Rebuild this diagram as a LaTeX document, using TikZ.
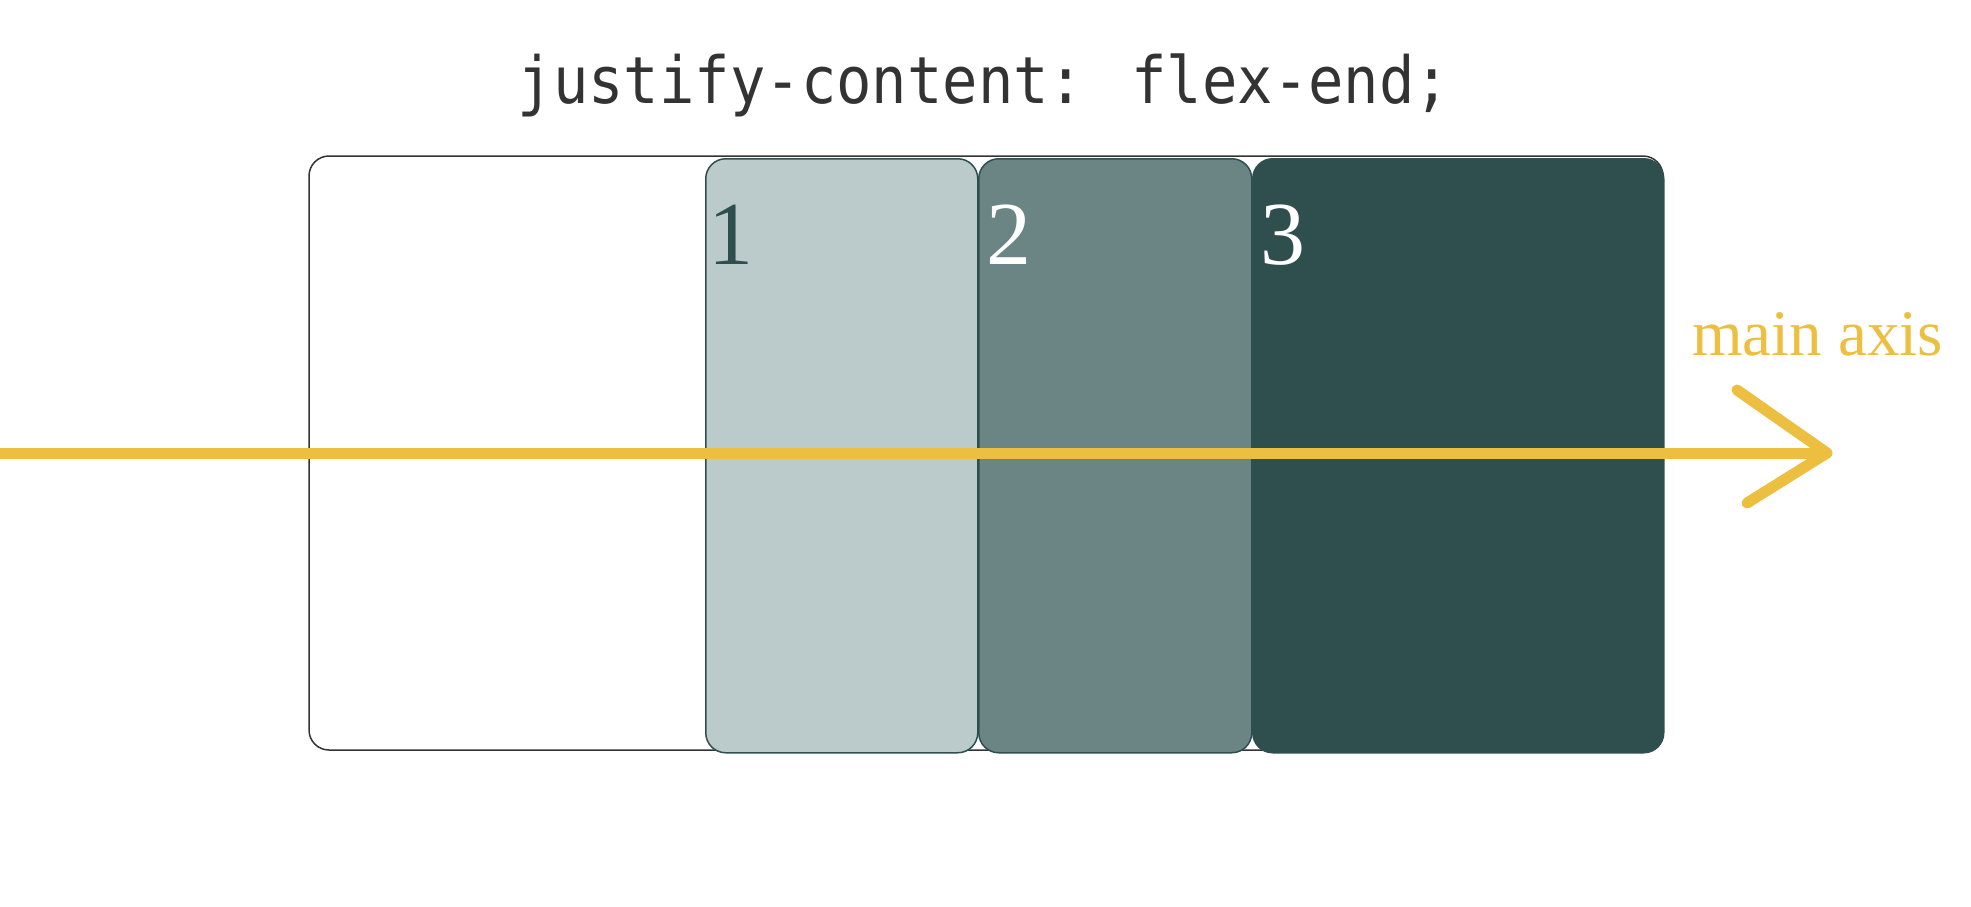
\documentclass[tikz,border=0pt]{standalone}
\usepackage{fontspec}
\setmainfont{Liberation Serif}
\newfontfamily\monofont{DejaVu Sans Mono}
\definecolor{cborder}{HTML}{333333}
\definecolor{cone}{HTML}{BBCBCB}
\definecolor{ctwo}{HTML}{6B8584}
\definecolor{cthree}{HTML}{2F4F4F}
\definecolor{caxis}{HTML}{EDBF41}
\tikzset{
  itembox/.style={draw=cthree, line width=1.5pt, rounded corners=20pt},
  digit/.style={anchor=base west, inner sep=0pt, font=\fontsize{90}{90}\selectfont},
  axisline/.style={draw=caxis, line width=11pt},
}
\begin{document}
\begin{tikzpicture}[x=1pt,y=-1pt]
\useasboundingbox (0,0) rectangle (1971,906);
\node[anchor=base, inner sep=0pt, text=cborder, font=\monofont\fontsize{65}{65}\selectfont] (title) at (984,103) {\scalebox{0.905}[1]{justify-content: flex-end;}};
\draw[cborder, line width=1.5pt, rounded corners=20pt] (309,156) rectangle (1663,750);
\node[itembox, fill=cone, minimum width=272pt, minimum height=594pt, anchor=north west, inner sep=0pt] (i1) at (705,158) {};
\node[itembox, fill=ctwo, minimum width=273pt, minimum height=594pt, anchor=north west, inner sep=0pt] (i2) at (978,158) {};
\node[itembox, fill=cthree, minimum width=411pt, minimum height=594pt, anchor=north west, inner sep=0pt] (i3) at (1252,158) {};
\node[digit, text=cthree] (d1) at (708,264) {1};
\node[digit, text=white] (d2) at (986,264) {2};
\node[digit, text=white] (d3) at (1260,264) {3};
\coordinate (astart) at (0,453);
\coordinate (atip) at (1827,453);
\coordinate (aup) at (1737,390);
\coordinate (alow) at (1747,503);
\draw[axisline] (astart) -- (atip);
\draw[axisline, line cap=round, line join=round] (aup) -- (atip) -- (alow);
\node[anchor=base west, inner sep=0pt, text=caxis, font=\fontsize{65}{65}\selectfont] (lbl) at (1692,355) {main axis};
\end{tikzpicture}
\end{document}
